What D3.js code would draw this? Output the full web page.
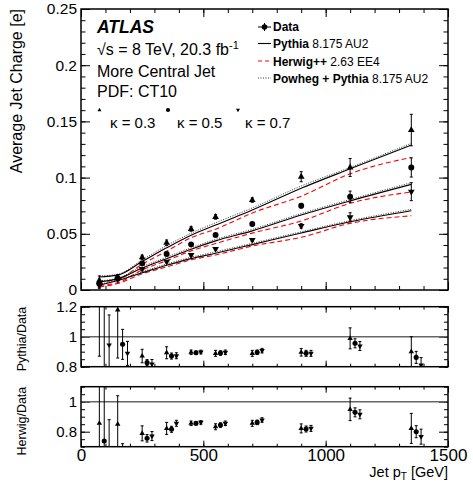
<!DOCTYPE html>
<html><head><meta charset="utf-8">
<script src="https://cdn.jsdelivr.net/npm/d3@7"></script>
<style>
html,body{margin:0;padding:0;background:#fff;}
svg text{font-family:"Liberation Sans",Arial,Helvetica,sans-serif;fill:#000;}
</style></head><body>
<svg id="c" width="473" height="486"></svg>
<script>
// ---------------- data ----------------
const ptBins = [75, 150, 250, 350, 450, 550, 700, 900, 1100, 1350];

const data03 = [0.0085, 0.0112, 0.0290, 0.0420, 0.0543, 0.0650, 0.0800, 0.1008, 0.1090, 0.1423];
const data05 = [0.0055, 0.0104, 0.0237, 0.0320, 0.0406, 0.0490, 0.0587, 0.0750, 0.0830, 0.1090];
const data07 = [0.0045, 0.0095, 0.0187, 0.0252, 0.0311, 0.0365, 0.0445, 0.0570, 0.0647, 0.0875];
const dataErr03 = [0.0040, 0.0025, 0.0020, 0.0025, 0.0020, 0.0020, 0.0020, 0.0045, 0.0080, 0.0140];
const dataErr05 = [0.0030, 0.0012, 0.0010, 0.0010, 0.0010, 0.0010, 0.0012, 0.0020, 0.0050, 0.0085];
const dataErr07 = [0.0030, 0.0012, 0.0010, 0.0010, 0.0010, 0.0010, 0.0012, 0.0020, 0.0040, 0.0080];

const pythia03 = [0.0115, 0.0132, 0.0253, 0.0375, 0.0487, 0.0578, 0.0711, 0.0905, 0.1078, 0.1290];
const pythia05 = [0.0075, 0.0099, 0.0196, 0.0279, 0.0363, 0.0437, 0.0526, 0.0667, 0.0793, 0.0940];
const pythia07 = [0.0043, 0.0084, 0.0153, 0.0220, 0.0279, 0.0327, 0.0404, 0.0507, 0.0607, 0.0705];

const herwig03 = [0.0073, 0.0095, 0.0229, 0.0345, 0.0465, 0.0541, 0.0685, 0.0835, 0.1034, 0.1180];
const herwig05 = [0.0041, 0.0064, 0.0179, 0.0261, 0.0348, 0.0414, 0.0506, 0.0614, 0.0771, 0.0872];
const herwig07 = [0.0028, 0.0057, 0.0144, 0.0205, 0.0268, 0.0312, 0.0391, 0.0469, 0.0593, 0.0660];

const powheg03 = [0.0125, 0.0140, 0.0268, 0.0395, 0.0505, 0.0598, 0.0730, 0.0925, 0.1090, 0.1305];
const powheg05 = [0.0082, 0.0106, 0.0207, 0.0292, 0.0376, 0.0450, 0.0540, 0.0680, 0.0805, 0.0955];
const powheg07 = [0.0050, 0.0090, 0.0162, 0.0232, 0.0291, 0.0340, 0.0415, 0.0518, 0.0617, 0.0718];

const pyRatio03 = [1.40, 1.178, 0.871, 0.893, 0.896, 0.889, 0.889, 0.896, 0.989, 0.900];
const pyRatio05 = [1.30, 0.949, 0.827, 0.871, 0.893, 0.891, 0.896, 0.889, 0.956, 0.862];
const pyRatio07 = [0.945, 0.889, 0.818, 0.873, 0.898, 0.896, 0.907, 0.889, 0.938, 0.811];
const pyRatioErr03 = [0.53, 0.32, 0.045, 0.040, 0.015, 0.020, 0.020, 0.025, 0.070, 0.100];
const pyRatioErr05 = [0.55, 0.10, 0.020, 0.020, 0.012, 0.015, 0.015, 0.020, 0.030, 0.040];
const pyRatioErr07 = [0.20, 0.08, 0.030, 0.020, 0.012, 0.015, 0.015, 0.020, 0.030, 0.050];

const hwRatio03 = [0.856, 0.850, 0.789, 0.822, 0.856, 0.833, 0.856, 0.822, 0.949, 0.822];
const hwRatio05 = [0.738, 0.620, 0.756, 0.816, 0.856, 0.844, 0.862, 0.818, 0.929, 0.800];
const hwRatio07 = [0.620, 0.600, 0.771, 0.856, 0.862, 0.856, 0.878, 0.822, 0.916, 0.767];
const hwRatioErr03 = [0.45, 0.19, 0.050, 0.040, 0.015, 0.020, 0.020, 0.030, 0.075, 0.100];
const hwRatioErr05 = [0.45, 0.10, 0.025, 0.020, 0.012, 0.015, 0.015, 0.020, 0.030, 0.040];
const hwRatioErr07 = [0.26, 0.08, 0.030, 0.020, 0.012, 0.015, 0.015, 0.020, 0.030, 0.050];

const xTicks = [0, 500, 1000, 1500];
const mainYTicks = [0, 0.05, 0.1, 0.15, 0.2, 0.25];
const mainYLabels = ["0", "0.05", "0.1", "0.15", "0.2", "0.25"];
const pyTicks = [0.8, 1, 1.2];
const pyLabels = ["0.8", "1", "1.2"];
const hwTicks = [0.8, 1];
const hwLabels = ["0.8", "1"];
const kappaLabels = ["\u03BA = 0.3", "\u03BA = 0.5", "\u03BA = 0.7"];

// ---------------- layout ----------------
const svg = d3.select("#c");
const L = 81, R = 448;
const x = d3.scaleLinear().domain([0, 1500]).range([L, R]);
const yMain = d3.scaleLinear().domain([0, 0.25]).range([290, 9]);
const yPy = d3.scaleLinear().domain([0.8, 1.2]).range([366.7, 306.7]);
const yHw = d3.scaleLinear().domain([0.7, 1.1]).range([446.7, 386.7]);
const minorX = d3.range(0, 1501, 100);

function frameAxes(g, y, yMajor, yMinor, yMajLen, yMinLen, xMajLen, xMinLen) {
  const [y0, y1] = y.range();
  g.append("g").attr("transform", `translate(0,${y0})`)
    .call(d3.axisBottom(x).tickValues(minorX).tickSize(-xMinLen).tickFormat(""));
  g.append("g").attr("transform", `translate(0,${y1})`)
    .call(d3.axisTop(x).tickValues(minorX).tickSize(-xMinLen).tickFormat(""));
  g.append("g").attr("transform", `translate(0,${y0})`)
    .call(d3.axisBottom(x).tickValues(xTicks).tickSize(-xMajLen).tickFormat(""));
  g.append("g").attr("transform", `translate(0,${y1})`)
    .call(d3.axisTop(x).tickValues(xTicks).tickSize(-xMajLen).tickFormat(""));
  g.append("g").attr("transform", `translate(${L},0)`)
    .call(d3.axisLeft(y).tickValues(yMinor).tickSize(-yMinLen).tickFormat(""));
  g.append("g").attr("transform", `translate(${R},0)`)
    .call(d3.axisRight(y).tickValues(yMinor).tickSize(-yMinLen).tickFormat(""));
  g.append("g").attr("transform", `translate(${R},0)`)
    .call(d3.axisRight(y).tickValues(yMajor).tickSize(-yMajLen).tickFormat(""));
  g.selectAll(".domain").remove();
  g.selectAll(".tick line").attr("stroke", "#000").attr("stroke-width", 1);
}

function yLabels(g, y, ticks, labels, size, majLen) {
  g.append("g").attr("transform", `translate(${L},0)`)
    .call(d3.axisLeft(y).tickValues(ticks).tickSize(-majLen).tickPadding(4)
      .tickFormat((d, i) => labels[i]))
    .call(a => a.select(".domain").remove())
    .call(a => a.selectAll(".tick line").attr("stroke", "#000"))
    .call(a => a.selectAll("text").attr("font-size", size + "px")
      .attr("font-family", "Liberation Sans, Arial, sans-serif"));
}

const defs = svg.append("defs");
[["cMain", yMain], ["cPy", yPy], ["cHw", yHw]].forEach(([id, y]) => {
  const [y0, y1] = y.range();
  defs.append("clipPath").attr("id", id).append("rect")
    .attr("x", L).attr("y", y1).attr("width", R - L).attr("height", y0 - y1);
});

const triUp = d3.symbol().type(d3.symbolTriangle);
function marker(g, kind, cx, cy, s) {
  if (kind === 1) {
    g.append("circle").attr("cx", cx).attr("cy", cy).attr("r", s * 0.55).attr("fill", "#000");
  } else {
    const size = 0.433 * s * s * 1.1;
    g.append("path").attr("d", triUp.size(size)())
      .attr("transform", `translate(${cx},${cy})` + (kind === 2 ? " rotate(180)" : ""))
      .attr("fill", "#000");
  }
}
function errBar(g, cx, y, v, e, cap) {
  g.append("line").attr("x1", cx).attr("x2", cx).attr("y1", y(v - e)).attr("y2", y(v + e))
    .attr("stroke", "#000").attr("stroke-width", 1);
  [v - e, v + e].forEach(b => g.append("line").attr("x1", cx - cap).attr("x2", cx + cap)
    .attr("y1", y(b)).attr("y2", y(b)).attr("stroke", "#000").attr("stroke-width", 1));
}

// ---------------- main panel ----------------
const gMain = svg.append("g");
frameAxes(gMain, yMain, mainYTicks, d3.range(0, 0.2501, 0.01), 9, 4.5, 8, 4);
yLabels(gMain, yMain, mainYTicks, mainYLabels, 15.5, 9);

const curveG = gMain.append("g").attr("clip-path", "url(#cMain)");
const line = d3.line().x((d, i) => x(ptBins[i])).y(d => yMain(d)).curve(d3.curveMonotoneX);
[powheg03, powheg05, powheg07].forEach(s => curveG.append("path").attr("d", line(s))
  .attr("fill", "none").attr("stroke", "#333").attr("stroke-width", 1).attr("stroke-dasharray", "1,1.5"));
[herwig03, herwig05, herwig07].forEach(s => curveG.append("path").attr("d", line(s))
  .attr("fill", "none").attr("stroke", "#ff0000").attr("stroke-width", 1.1).attr("stroke-dasharray", "5,3"));
[pythia03, pythia05, pythia07].forEach(s => curveG.append("path").attr("d", line(s))
  .attr("fill", "none").attr("stroke", "#000").attr("stroke-width", 1.1));

const mainPts = gMain.append("g").attr("clip-path", "url(#cMain)");
[[data03, dataErr03, 0], [data05, dataErr05, 1], [data07, dataErr07, 2]].forEach(([vals, errs, k]) => {
  vals.forEach((v, i) => {
    const cx = x(ptBins[i]);
    errBar(mainPts, cx, yMain, v, errs[i], 1.5);
    marker(mainPts, k, cx, yMain(v), k === 1 ? 5.4 : 6.4);
  });
});

// ---------------- ratio panels ----------------
function ratioPanel(y, ticks, labels, minor, clipId, sets) {
  const g = svg.append("g");
  frameAxes(g, y, ticks, minor, 9, 4, 6, 3);
  yLabels(g, y, ticks, labels, 15, 9);
  g.append("line").attr("x1", L).attr("x2", R).attr("y1", y(1)).attr("y2", y(1))
    .attr("stroke", "#666").attr("stroke-width", 1.5);
  const gp = g.append("g").attr("clip-path", `url(#${clipId})`);
  sets.forEach(([vals, errs], k) => {
    vals.forEach((v, i) => {
      const cx = x(ptBins[i] + 20 * k);
      errBar(gp, cx, y, v, errs[i], 1.5);
      marker(gp, k, cx, y(v), k === 1 ? 4.6 : 5.2);
    });
  });
  return g;
}
ratioPanel(yPy, pyTicks, pyLabels, d3.range(0.8, 1.2001, 0.05), "cPy",
  [[pyRatio03, pyRatioErr03], [pyRatio05, pyRatioErr05], [pyRatio07, pyRatioErr07]]);
const gHw = ratioPanel(yHw, hwTicks, hwLabels, d3.range(0.7, 1.1001, 0.05), "cHw",
  [[hwRatio03, hwRatioErr03], [hwRatio05, hwRatioErr05], [hwRatio07, hwRatioErr07]]);

gHw.append("g").attr("transform", `translate(0,${yHw.range()[0]})`)
  .call(d3.axisBottom(x).tickValues(xTicks).tickSize(0).tickPadding(2).tickFormat(d => d))
  .call(a => a.select(".domain").remove())
  .call(a => a.selectAll("text").attr("font-size", "17px")
    .attr("font-family", "Liberation Sans, Arial, sans-serif"));

[yMain, yPy, yHw].forEach(y => {
  const [y0, y1] = y.range();
  svg.append("rect").attr("x", L).attr("y", y1).attr("width", R - L).attr("height", y0 - y1)
    .attr("fill", "none").attr("stroke", "#000").attr("stroke-width", 1.5);
});

// ---------------- texts ----------------
svg.append("text").attr("x", 97).attr("y", 33).attr("font-size", "17.5px")
  .attr("font-weight", "bold").attr("font-style", "italic").text("ATLAS");
const t2 = svg.append("text").attr("x", 97).attr("y", 55).attr("font-size", "16px");
t2.append("tspan").text("\u221As = 8 TeV, 20.3 fb");
t2.append("tspan").attr("font-size", "11px").attr("dy", -6).text("-1");
svg.append("text").attr("x", 97).attr("y", 77).attr("font-size", "16px").text("More Central Jet");
svg.append("text").attr("x", 97).attr("y", 97).attr("font-size", "16px").text("PDF: CT10");

const kx = [[99.5, 110], [168, 177], [238, 245]];
kappaLabels.forEach((lab, k) => {
  marker(svg, k, kx[k][0], 110, 3.8);
  svg.append("text").attr("x", kx[k][1]).attr("y", 128).attr("font-size", "15px").text(lab);
});

const lx0 = 258, lx1 = 271, tx = 273;
svg.append("line").attr("x1", lx0).attr("x2", lx1).attr("y1", 27).attr("y2", 27).attr("stroke", "#000");
svg.append("line").attr("x1", 264.5).attr("x2", 264.5).attr("y1", 23).attr("y2", 31).attr("stroke", "#000");
svg.append("circle").attr("cx", 264.5).attr("cy", 27).attr("r", 2.8).attr("fill", "#000");
svg.append("text").attr("x", tx).attr("y", 31).attr("font-size", "12px").attr("font-weight", "bold").text("Data");

svg.append("line").attr("x1", lx0).attr("x2", lx1).attr("y1", 43.5).attr("y2", 43.5)
  .attr("stroke", "#000").attr("stroke-width", 1.1);
const tp = svg.append("text").attr("x", tx).attr("y", 48).attr("font-size", "12px");
tp.append("tspan").attr("font-weight", "bold").text("Pythia");
tp.append("tspan").text(" 8.175 AU2");

svg.append("line").attr("x1", lx0).attr("x2", lx1).attr("y1", 61).attr("y2", 61)
  .attr("stroke", "#ff0000").attr("stroke-width", 1.1).attr("stroke-dasharray", "4,3");
const th = svg.append("text").attr("x", tx).attr("y", 65.5).attr("font-size", "12px");
th.append("tspan").attr("font-weight", "bold").text("Herwig++");
th.append("tspan").text(" 2.63 EE4");

svg.append("line").attr("x1", lx0).attr("x2", lx1).attr("y1", 78).attr("y2", 78)
  .attr("stroke", "#333").attr("stroke-dasharray", "1,1.5");
const tw = svg.append("text").attr("x", tx).attr("y", 82.5).attr("font-size", "12px");
tw.append("tspan").attr("font-weight", "bold").text("Powheg + Pythia");
tw.append("tspan").text(" 8.175 AU2");

svg.append("text").attr("transform", "translate(22,9) rotate(-90)").attr("text-anchor", "end")
  .attr("font-size", "16px").text("Average Jet Charge [e]");
svg.append("text").attr("transform", `translate(26,${yPy.range()[1]}) rotate(-90)`).attr("text-anchor", "end")
  .attr("font-size", "12.5px").text("Pythia/Data");
svg.append("text").attr("transform", `translate(26,${yHw.range()[1]}) rotate(-90)`).attr("text-anchor", "end")
  .attr("font-size", "12.5px").text("Herwig/Data");
const xt = svg.append("text").attr("x", 448).attr("y", 477).attr("text-anchor", "end").attr("font-size", "14.5px");
xt.append("tspan").text("Jet p");
xt.append("tspan").attr("font-size", "10px").attr("dy", 3).text("T");
xt.append("tspan").attr("dy", -3).text(" [GeV]");
</script>
</body></html>
